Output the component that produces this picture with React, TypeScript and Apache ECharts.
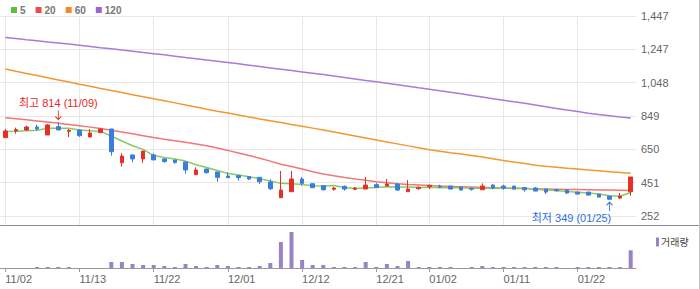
import React, { useEffect, useRef } from 'react';
import * as echarts from 'echarts';

const dates = ['11/02','11/03','11/06','11/07','11/08','11/09','11/10','11/13','11/14','11/15','11/16','11/17','11/20','11/21','11/22','11/23','11/24','11/27','11/28','11/29','11/30','12/01','12/04','12/05','12/06','12/07','12/08','12/11','12/12','12/13','12/14','12/15','12/18','12/19','12/20','12/21','12/22','12/26','12/27','12/28','01/02','01/03','01/04','01/05','01/08','01/09','01/10','01/11','01/12','01/15','01/16','01/17','01/18','01/19','01/22','01/23','01/24','01/25','01/26','01/29'];

const tickDates = ['11/02','11/13','11/22','12/01','12/12','12/21','01/02','01/11','01/22'];

const opens  = [720,760,766,784,736,786,758,766,724,750,772,570,617,593,617,593,587,575,499,533,515,491,493,487,483,455,361,397,473,445,433,412,429,412,413,439,431,443,397,415,427,431,431,425,418,409,437,431,431,421,419,413,409,407,395,395,383,371,359,397];
const closes = [760,768,784,772,796,766,764,732,748,772,636,610,593,640,587,577,571,527,527,511,483,481,481,473,457,415,407,473,447,421,409,419,413,419,437,423,443,407,413,423,435,425,413,407,412,431,419,419,413,409,401,395,403,389,383,377,365,352,371,485];
const lows   = [720,744,760,760,736,766,724,724,724,750,612,547,573,569,587,571,565,505,499,505,457,481,463,467,443,407,361,397,433,421,403,403,403,407,413,423,431,403,397,409,413,419,413,407,403,409,413,409,409,397,401,383,397,385,383,377,365,349,353,373];
const highs  = [772,780,792,798,802,814,772,768,772,778,772,627,617,640,627,597,587,575,543,533,515,513,499,491,483,471,521,521,485,445,433,425,435,425,485,449,473,447,467,429,439,439,431,425,421,447,443,439,431,425,425,413,415,413,395,395,383,371,389,485];

const ma5   = [757,759,762,764,776,777,776,766,761,756,730,700,672,650,613,601,593,580,558,542,524,506,497,486,475,461,447,445,440,433,431,434,422,416,419,422,427,426,425,422,424,421,422,421,418,418,416,418,419,418,412,407,404,399,394,389,383,373,370,392];
const ma20  = [839,833,827,820,813,806,799,791,783,775,765,754,743,732,721,711,702,692,682,672,658,644,629,613,597,580,561,548,533,516,503,492,482,473,465,457,450,444,440,437,434,431,429,427,425,423,421,419,417,416,414,413,412,411,410,409,408,407,406,405];
const ma60  = [1130,1117,1104,1091,1078,1065,1052,1039,1027,1014,1002,990,977,965,952,940,928,915,903,890,878,867,855,844,832,821,810,799,788,777,766,754,742,730,718,706,694,683,671,660,648,639,630,622,613,604,594,584,574,565,555,549,544,538,533,527,522,517,512,507];
const ma120 = [1318,1312,1305,1299,1292,1286,1279,1272,1265,1258,1252,1244,1237,1229,1222,1215,1207,1199,1192,1184,1177,1169,1161,1153,1145,1137,1129,1121,1113,1105,1097,1088,1080,1071,1062,1054,1045,1036,1027,1018,1010,1000,991,982,972,963,953,944,934,925,915,905,895,885,876,866,858,851,844,838];

const volumes = [0,0,0,10000,10000,10000,10000,0,0,0,60000,60000,40000,30000,30000,20000,10000,40000,20000,10000,30000,20000,10000,10000,20000,50000,260000,360000,80000,30000,30000,10000,10000,10000,60000,10000,40000,20000,70000,10000,10000,10000,10000,0,10000,20000,10000,10000,10000,10000,10000,10000,10000,0,10000,10000,10000,10000,10000,177000];

const priceMin = 252;
const priceMax = 1447;
const highDate = '11/09';
const highValue = 814;
const lowDate = '01/25';
const lowValue = 349;

const FONT = "'Liberation Sans', 'Noto Sans CJK KR', sans-serif";
const UP = '#e5302a';
const DOWN = '#3b7ddf';
const GRID = '#e8e8e8';

const fmt = (n: number) => String(n).replace(/\B(?=(\d{3})+(?!\d))/g, ',');
const isTick = (_i: number, v: string) => tickDates.includes(v);

export default function App() {
  const ref = useRef<HTMLDivElement>(null);
  useEffect(() => {
    if (!ref.current) return;
    const chart = echarts.init(ref.current, undefined, { renderer: 'svg' });
    const option: any = {
      animation: false,
      textStyle: { fontFamily: FONT },
      legend: [
        {
          data: [
            { name: '5', itemStyle: { color: '#5cbf3f' } },
            { name: '20', itemStyle: { color: '#f04b4b' } },
            { name: '60', itemStyle: { color: '#f78a1f' } },
            { name: '120', itemStyle: { color: '#a062d1' } },
          ],
          left: 6, top: 0, icon: 'rect', itemWidth: 6, itemHeight: 6, itemGap: 10,
          selectedMode: false,
          textStyle: { color: '#777', fontSize: 10, fontWeight: 'bold', fontFamily: FONT, padding: [0, 0, 0, -2] },
        },
        {
          data: [{ name: '거래량', itemStyle: { color: '#9983c7' } }],
          left: 651, top: 232, icon: 'rect', itemWidth: 3, itemHeight: 9,
          selectedMode: false,
          textStyle: { color: '#444', fontSize: 10, fontFamily: FONT, padding: [0, 0, 0, -3] },
        },
      ],
      grid: [
        { left: 0, right: 64, top: 16, height: 200 },
        { left: 0, right: 64, top: 226, height: 42 },
        { left: 0, right: 64, top: 16, height: 209 },
      ],
      xAxis: [
        { type: 'category', data: dates, gridIndex: 0, boundaryGap: true, show: true,
          axisLine: { show: false }, axisTick: { show: false }, axisLabel: { show: false }, splitLine: { show: false } },
        { type: 'category', data: dates, gridIndex: 1, boundaryGap: true,
          axisLine: { lineStyle: { color: '#9a9a9a' } },
          axisTick: { show: true, alignWithLabel: true, interval: isTick, length: 4, lineStyle: { color: '#9a9a9a' } },
          axisLabel: { interval: isTick, align: 'left', margin: 5, color: '#666', fontSize: 11, fontFamily: FONT },
          splitLine: { show: false } },
        { type: 'category', data: dates, gridIndex: 2, boundaryGap: true,
          axisLine: { show: false }, axisTick: { show: false }, axisLabel: { show: false },
          splitLine: { show: true, alignWithLabel: true, interval: isTick, lineStyle: { color: GRID } } },
      ],
      yAxis: [
        { type: 'value', gridIndex: 0, position: 'right', min: priceMin, max: priceMax, interval: (priceMax - priceMin) / 6,
          axisLine: { show: false }, axisTick: { show: false },
          axisLabel: { color: '#666', fontSize: 11, margin: 5, fontFamily: FONT, formatter: (v: number) => fmt(Math.floor(v + 0.01)) },
          splitLine: { lineStyle: { color: GRID } } },
        { type: 'value', gridIndex: 1, min: 0, max: 420000, show: false, splitLine: { show: false } },
        { type: 'value', gridIndex: 2, min: 0, max: 1, show: false, splitLine: { show: false } },
      ],
      series: [
        { name: '120', type: 'line', xAxisIndex: 0, yAxisIndex: 0, data: ma120, showSymbol: false, z: 2,
          lineStyle: { color: '#a87bd8', width: 1.5 }, itemStyle: { color: '#a062d1' } },
        { name: '60', type: 'line', xAxisIndex: 0, yAxisIndex: 0, data: ma60, showSymbol: false, z: 2,
          lineStyle: { color: '#f59632', width: 1.5 }, itemStyle: { color: '#f78a1f' } },
        { name: '20', type: 'line', xAxisIndex: 0, yAxisIndex: 0, data: ma20, showSymbol: false, z: 2,
          lineStyle: { color: '#f27676', width: 1.5 }, itemStyle: { color: '#f04b4b' } },
        { name: '5', type: 'line', xAxisIndex: 0, yAxisIndex: 0, data: ma5, showSymbol: false, z: 2,
          lineStyle: { color: '#86cc66', width: 1.5 }, itemStyle: { color: '#5cbf3f' } },
        { name: 'price', type: 'candlestick', xAxisIndex: 0, yAxisIndex: 0, z: 5, barWidth: 4,
          data: dates.map((_, i) => [opens[i], closes[i], lows[i], highs[i]]),
          itemStyle: { color: UP, color0: DOWN, borderColor: UP, borderColor0: DOWN, borderWidth: 1 },
          markPoint: {
            silent: true,
            data: [
              { name: 'high', coord: [highDate, highValue], symbol: 'path://M0 0 L0 9 M-3 6 L0 9 L3 6',
                symbolSize: [6, 9], symbolOffset: [0, -7],
                itemStyle: { color: 'rgba(0,0,0,0)', borderColor: '#e8261f', borderWidth: 1 },
                label: { show: true, position: 'top', distance: 1, formatter: `최고 ${highValue} (${highDate})`,
                  color: '#e8261f', fontSize: 11, fontFamily: FONT } },
              { name: 'low', coord: [lowDate, lowValue], symbol: 'path://M0 9 L0 0 M-3 3 L0 0 L3 3',
                symbolSize: [6, 9], symbolOffset: [0, 7],
                itemStyle: { color: 'rgba(0,0,0,0)', borderColor: '#2c6fd4', borderWidth: 1 },
                label: { show: true, position: 'bottom', distance: 1, offset: [-38, 0], formatter: `최저 ${lowValue} (${lowDate})`,
                  color: '#2c6fd4', fontSize: 11, fontFamily: FONT } },
            ],
          } },
        { name: '거래량', type: 'bar', xAxisIndex: 1, yAxisIndex: 1, data: volumes, barWidth: 4,
          itemStyle: { color: '#9983c7' } },
      ],
      graphic: [
        { type: 'line', shape: { x1: 0, y1: 225.5, x2: 700, y2: 225.5 }, style: { stroke: '#8a9098', lineWidth: 1 }, silent: true },
        { type: 'line', shape: { x1: 699.5, y1: 0, x2: 699.5, y2: 289 }, style: { stroke: '#c4c4c4', lineWidth: 1 }, silent: true },
      ],
    };
    chart.setOption(option);
    return () => chart.dispose();
  }, []);
  return <div ref={ref} style={{ position: 'fixed', left: 0, top: 0, width: 700, height: 289, background: '#fff' }} />;
}
